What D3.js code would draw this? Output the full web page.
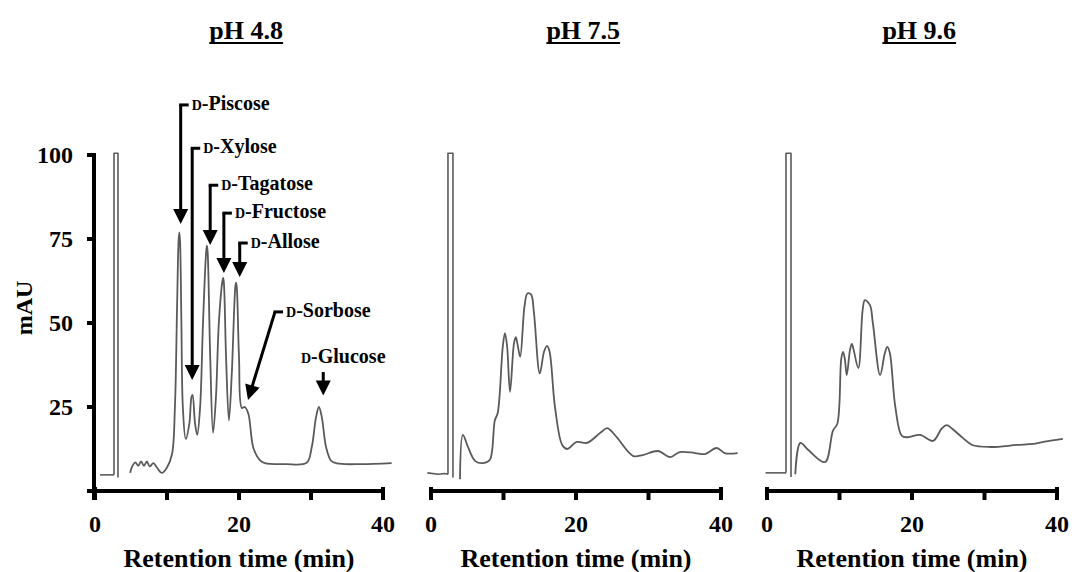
<!DOCTYPE html>
<html><head><meta charset="utf-8">
<script src="https://cdn.jsdelivr.net/npm/d3@7"></script>
<style>
body{margin:0;background:#fff}
svg text{font-family:"Liberation Serif","Times New Roman",serif;font-weight:bold;fill:#000}
</style>
</head><body>
<svg id="c" width="1072" height="572"></svg>
<script>
// ---------- data ----------
const panelTitles = ["pH 4.8", "pH 7.5", "pH 9.6"];
const xTicks = [0, 10, 20, 30, 40];
const xTickLabels = ["0", "", "20", "", "40"];
const yTicks = [0, 25, 50, 75, 100];
const yTickLabels = ["", "25", "50", "75", "100"];
const xTitle = "Retention time (min)";
const yTitle = "mAU";

// baseline before injection peak [time, mAU]
const pre48 = [[0.7, 4.8], [1.7, 4.8], [2.64, 4.8]];
const pre75 = [[-0.5, 5.4], [1.0, 5.0], [1.9, 5.2], [2.34, 5.0]];
const pre96 = [[-0.2, 5.4], [1.2, 5.4], [2.62, 5.4]];

// injection (solvent) peak: [start time, end time, bottom mAU]
const solvent48 = [2.64, 3.19, 4.0];
const solvent75 = [2.34, 3.03, 4.0];
const solvent96 = [2.62, 3.31, 4.2];

// main chromatogram traces [time, mAU]
const trace48 = [[4.9, 5.4], [5.1, 7], [5.6, 8.5], [6.0, 7.5], [6.4, 8.8], [6.8, 7.5], [7.2, 8.8], [7.6, 7.3], [8.1, 8.3], [8.6, 7], [9.3, 5.4],
  [10.0, 7], [10.7, 11], [11.1, 25], [11.4, 55], [11.62, 75], [11.72, 77], [11.82, 74], [12.0, 50], [12.2, 25], [12.6, 15.5], [13.1, 20],
  [13.4, 28], [13.55, 28.6], [13.9, 20], [14.2, 16.7], [14.6, 25], [15.0, 50], [15.45, 71.5], [15.55, 73], [15.65, 71], [16.0, 40],
  [16.4, 17.3], [16.8, 28], [17.2, 50], [17.7, 62.5], [17.8, 63.4], [17.9, 62], [18.2, 40], [18.6, 21], [19.0, 35], [19.5, 61],
  [19.6, 62], [19.7, 60.5], [20.0, 40], [20.4, 24.7], [20.8, 25], [21.3, 23], [22.0, 12.8], [22.9, 9.2], [23.6, 8.3],
  [26.5, 8.0], [29.4, 8.4], [30.1, 13], [30.7, 22], [31.1, 25], [31.5, 22], [32.1, 13], [32.8, 9], [33.6, 8.2], [37.0, 8.0], [41.2, 8.3]];
const trace75 = [[4.0, 3.5], [4.4, 16.7], [5.1, 13.1], [6.1, 8.9], [7.2, 8.3], [8.1, 9.2], [8.8, 21], [9.2, 23.2], [9.9, 43],
  [10.2, 47], [10.5, 43], [10.9, 29.5], [11.45, 44], [11.7, 45.8], [11.95, 43.5], [12.3, 40], [12.9, 55], [13.3, 58.8], [13.8, 58.5],
  [14.2, 53], [15.0, 35], [15.6, 41.5], [16.0, 43.2], [16.35, 41.5], [17.1, 25], [18.1, 13.7], [18.8, 12.5], [20.1, 14.6],
  [21.5, 14.3], [23.4, 17.4], [24.3, 18.7], [25.1, 17.3], [25.7, 15.8], [27.9, 10.4], [29.2, 10.7], [31.3, 11.9], [33.0, 10.1],
  [34.3, 11.6], [36.4, 11.3], [37.8, 11.0], [39.4, 12.8], [40.5, 11.3], [42.3, 11.3]];
const trace96 = [[3.9, 5.0], [4.6, 14.3], [5.7, 12.2], [8.0, 8.6], [9.1, 18], [9.7, 20], [10.25, 39.5], [10.5, 41.4], [10.75, 39],
  [11.0, 34.5], [11.45, 42], [11.7, 43.8], [11.95, 42], [12.6, 36.6], [13.2, 54], [13.5, 56.8], [14.2, 55.3], [14.6, 50],
  [15.6, 34.5], [16.25, 41], [16.6, 42.9], [16.95, 41], [17.7, 25], [18.6, 16.4], [19.4, 16], [21.1, 16.7], [22.9, 14.9],
  [24.1, 18.6], [24.8, 19.6], [25.5, 18.6], [27.0, 15.8], [28.3, 13.7], [30.8, 13.1], [34.5, 13.7], [36.7, 14], [38.1, 14.6], [40.8, 15.5]];

// peak annotations (panel pH 4.8): name, [time, mAU] of line start, [time, mAU] of arrow tip
const annNames = ["Piscose", "Xylose", "Tagatose", "Fructose", "Allose", "Sorbose", "Glucose"];
const annStart = [[11.9, 114.9], [13.5, 102], [16.0, 91], [17.9, 82.7], [20.1, 73.8], [25.0, 53.3], [31.7, 35.4]];
const annTip = [[11.9, 79.5], [13.5, 33], [16.0, 73.2], [17.9, 64.9], [20.1, 63.7], [21.25, 27.1], [31.7, 28.4]];

// ---------- drawing ----------
const svg = d3.select("#c");
const y = d3.scaleLinear().domain([0, 100]).range([491, 155]);
const xRanges = [[95, 383], [431, 721], [767, 1057]];
const xs = xRanges.map(r => d3.scaleLinear().domain([0, 40]).range(r));
const pres = [pre48, pre75, pre96];
const solvents = [solvent48, solvent75, solvent96];
const traces = [trace48, trace75, trace96];
const traceColor = "#5a5a5a";

xs.forEach((x, i) => {
  const g = svg.append("g");
  const line = d3.line().x(d => x(d[0])).y(d => y(d[1])).curve(d3.curveCatmullRom.alpha(0.5));
  // pre-injection baseline
  g.append("path").attr("d", d3.line().x(d => x(d[0])).y(d => y(d[1]))(pres[i]))
    .attr("fill", "none").attr("stroke", traceColor).attr("stroke-width", 1.6);
  // injection peak (off-scale, drawn as double line)
  const s = solvents[i];
  const sp = [[s[0], pres[i][pres[i].length - 1][1]], [s[0], 100.5], [s[1], 100.5], [s[1], s[2]]];
  g.append("path").attr("d", d3.line().x(d => x(d[0])).y(d => y(d[1]))(sp))
    .attr("fill", "none").attr("stroke", traceColor).attr("stroke-width", 1.6).attr("stroke-linejoin", "round");
  // main trace
  g.append("path").attr("d", line(traces[i]))
    .attr("fill", "none").attr("stroke", traceColor).attr("stroke-width", 1.8).attr("stroke-linejoin", "round");

  // x axis
  const y0 = y(0);
  g.append("line").attr("x1", x(0) - (i === 0 ? 7 : 0)).attr("x2", x(40) + 2).attr("y1", y0).attr("y2", y0)
    .attr("stroke", "#000").attr("stroke-width", 4);
  xTicks.forEach((t, k) => {
    const end = (k === 0 || k === xTicks.length - 1);
    g.append("line").attr("x1", x(t)).attr("x2", x(t)).attr("y1", end ? y0 - 4 : y0).attr("y2", y0 + 9)
      .attr("stroke", "#000").attr("stroke-width", 4);
    if (xTickLabels[k]) g.append("text").attr("x", x(t)).attr("y", y0 + 41).attr("text-anchor", "middle")
      .attr("font-size", 24).text(xTickLabels[k]);
  });
  g.append("text").attr("x", x(20)).attr("y", 567).attr("text-anchor", "middle").attr("font-size", 26).text(xTitle);

  // title with underline
  const tt = g.append("text").attr("x", x(21)).attr("y", 39).attr("text-anchor", "middle").attr("font-size", 26).text(panelTitles[i]);
  const w = tt.node().getComputedTextLength();
  g.append("line").attr("x1", x(21) - w / 2).attr("x2", x(21) + w / 2).attr("y1", 43).attr("y2", 43)
    .attr("stroke", "#000").attr("stroke-width", 2);
});

// y axis (first panel)
const x0 = xs[0];
const ya = svg.append("g");
ya.append("line").attr("x1", x0(0) - 1).attr("x2", x0(0) - 1).attr("y1", y(100) - 2).attr("y2", y(0) + 9)
  .attr("stroke", "#000").attr("stroke-width", 4);
yTicks.forEach((v, k) => {
  ya.append("line").attr("x1", x0(0) - 8).attr("x2", x0(0) - 1).attr("y1", y(v)).attr("y2", y(v))
    .attr("stroke", "#000").attr("stroke-width", 4);
  if (yTickLabels[k]) ya.append("text").attr("x", x0(0) - 22).attr("y", y(v)).attr("dy", "0.35em")
    .attr("text-anchor", "end").attr("font-size", 24).text(yTickLabels[k]);
});
ya.append("text").attr("transform", `translate(24,${y(54.5)}) rotate(-90)`).attr("dy", "0.35em")
  .attr("text-anchor", "middle").attr("font-size", 24).text(yTitle);

// annotations
const ag = svg.append("g");
function arrowHead(tx, ty, ang) {
  const L = 15, W = 7.5;
  const bx = tx - L * Math.cos(ang), by = ty - L * Math.sin(ang);
  const nx = -Math.sin(ang), ny = Math.cos(ang);
  return `M${tx},${ty}L${bx + nx * W},${by + ny * W}L${bx - nx * W},${by - ny * W}Z`;
}
annNames.forEach((name, i) => {
  const sx = x0(annStart[i][0]), sy = y(annStart[i][1]);
  const tx = x0(annTip[i][0]), ty = y(annTip[i][1]);
  const ang = Math.atan2(ty - sy, tx - sx);
  const bx = tx - 13 * Math.cos(ang), by = ty - 13 * Math.sin(ang);
  ag.append("path").attr("d", `M${sx},${sy}L${bx},${by}`).attr("stroke", "#000").attr("stroke-width", 3).attr("fill", "none");
  ag.append("path").attr("d", arrowHead(tx, ty, ang)).attr("fill", "#000");
  let lx, ly, anchor = "start";
  if (name === "Glucose") {
    lx = sx + 20; ly = sy - 9; anchor = "middle";
  } else {
    ag.append("line").attr("x1", sx - 1.5).attr("x2", sx + 8).attr("y1", sy).attr("y2", sy).attr("stroke", "#000").attr("stroke-width", 3);
    lx = sx + 11; ly = sy + 5;
  }
  const t = ag.append("text").attr("x", lx).attr("y", ly).attr("text-anchor", anchor).attr("font-size", 20);
  t.append("tspan").attr("font-size", 14).text("D");
  t.append("tspan").text("-" + name);
});
</script>
</body></html>
